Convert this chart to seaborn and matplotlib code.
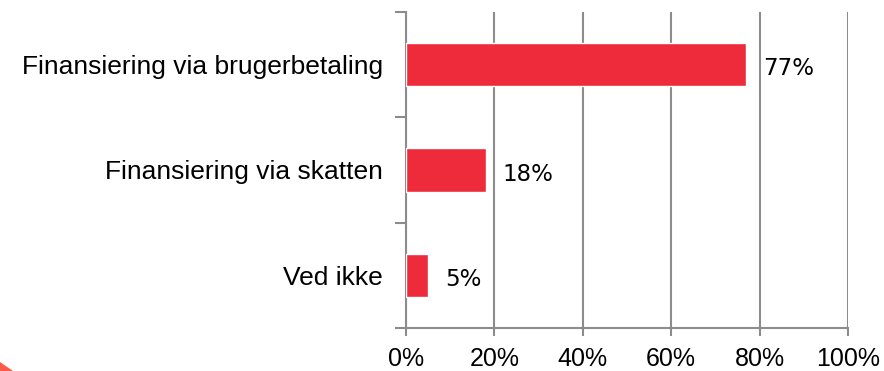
import matplotlib
matplotlib.use("Agg")
import matplotlib.pyplot as plt
from matplotlib.patches import Polygon
from matplotlib.ticker import FixedLocator, PercentFormatter
import seaborn as sns
import pandas as pd

categories = ["Finansiering via brugerbetaling", "Finansiering via skatten", "Ved ikke"]
shares = [77, 18, 5]
x_ticks = [0, 20, 40, 60, 80, 100]

sns.set_theme(style="white")
plt.rcParams["font.family"] = ["Liberation Sans", "DejaVu Sans"]

df = pd.DataFrame({"svar": categories, "andel": shares})

fig = plt.figure(figsize=(8.84, 3.71), dpi=100)
ax = fig.add_axes([406 / 884, 1 - 328 / 371, 442 / 884, 316 / 371])

bar_red = "#EE2B3B"
grid_gray = "#8C8C8C"

sns.barplot(data=df, x="andel", y="svar", orient="h", color=bar_red,
            width=0.41, saturation=1, ax=ax, zorder=3)

ax.set_xlim(0, 100)
ax.set_ylim(2.5, -0.5)
ax.set_xlabel("")
ax.set_ylabel("")

# vertical gridlines
ax.set_xticks(x_ticks)
ax.xaxis.set_major_formatter(PercentFormatter(decimals=0))
ax.grid(axis="x", color=grid_gray, linewidth=1.5, zorder=0)
ax.grid(axis="y", visible=False)

for side in ("top", "right"):
    ax.spines[side].set_visible(False)
for side in ("left", "bottom"):
    ax.spines[side].set_color(grid_gray)
    ax.spines[side].set_linewidth(1.5)

ax.tick_params(axis="x", which="major", bottom=True, length=5.5, width=1.5,
               color=grid_gray, pad=8, labelsize=18, labelcolor="black")
# category labels without tick marks; boundary ticks as minor ticks
ax.tick_params(axis="y", which="major", left=False, length=0, pad=16.5,
               labelsize=19, labelcolor="black")
ax.yaxis.set_minor_locator(FixedLocator([-0.5, 0.5, 1.5, 2.5]))
ax.tick_params(axis="y", which="minor", left=True, length=8, width=1.5,
               color=grid_gray)

for i, v in enumerate(shares):
    ax.annotate(f"{v}%", xy=(v, i), xytext=(12, -3), textcoords="offset points",
                va="center", ha="left", fontsize=16.5, color="black",
                family=["DejaVu Sans"])

# corner accent
fig.patches.append(Polygon([(0, 0), (0, 9 / 371), (13 / 884, 0)], closed=True,
                           transform=fig.transFigure, facecolor="#FF5A48",
                           edgecolor="none"))

fig.savefig("out.png", dpi=100)
